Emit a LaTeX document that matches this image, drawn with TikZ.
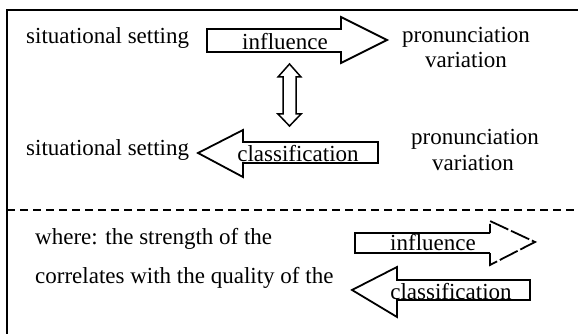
\documentclass[tikz,border=0pt]{standalone}
\usepackage{fontspec}
\setmainfont{Liberation Serif}
\begin{document}
\begin{tikzpicture}[x=1pt,y=-1pt,
  txt/.style={inner sep=0pt, font=\fontsize{23}{25}\selectfont},
  arr/.style={draw=black, line width=1.8pt, line join=miter, fill=white}]
\useasboundingbox (0,0) rectangle (578,334);
% frame
\draw[line width=2.5pt] (7,334) -- (7,10) -- (578,10);
\draw[line width=1.5pt, dash pattern=on 8pt off 5pt] (7,210) -- (578,210);
% top influence arrow
\draw[arr] (207,29) -- (341,29) -- (341,17) -- (387,40) -- (341,63) -- (341,52) -- (207,52) -- cycle;
\node[txt, anchor=base] (inf1) at (285,50) {influence};
% double arrow
\draw[arr, line width=1.5pt] (289.5,64) -- (301,77) -- (296,77) -- (296,114) -- (301,114) -- (289.5,126) -- (278,114) -- (283,114) -- (283,77) -- (278,77) -- cycle;
% classification arrow (middle)
\draw[arr] (198,153) -- (243,130) -- (243,142) -- (378,142) -- (378,163) -- (243,163) -- (243,177) -- cycle;
\node[txt, anchor=base] (cls1) at (298,161) {classification};
% texts upper
\node[txt, anchor=base west] (ss1) at (26,44) {situational setting};
\node[txt, anchor=base] (pr1) at (466,43) {pronunciation};
\node[txt, anchor=base] (va1) at (466,68) {variation};
\node[txt, anchor=base west] (ss2) at (26,155) {situational setting};
\node[txt, anchor=base] (pr2) at (475,145) {pronunciation};
\node[txt, anchor=base] (va2) at (473,170) {variation};
% legend
\node[txt, anchor=base west] (wh) at (35,244) {where: the strength of the};
\node[txt, anchor=base west] (co) at (35,283) {correlates with the quality of the};
\draw[arr] (490,233) -- (355,233) -- (355,253) -- (490,253);
\draw[arr, dash pattern=on 20pt off 3pt] (490,253) -- (490,265) -- (535,242) -- (490,221) -- (490,233);
\node[txt, anchor=base] (inf2) at (433,250) {influence};
\draw[arr] (352,290) -- (397,267) -- (397,280) -- (530,280) -- (530,300) -- (397,300) -- (397,317) -- cycle;
\node[txt, anchor=base] (cls2) at (451,299) {classification};
\end{tikzpicture}
\end{document}
